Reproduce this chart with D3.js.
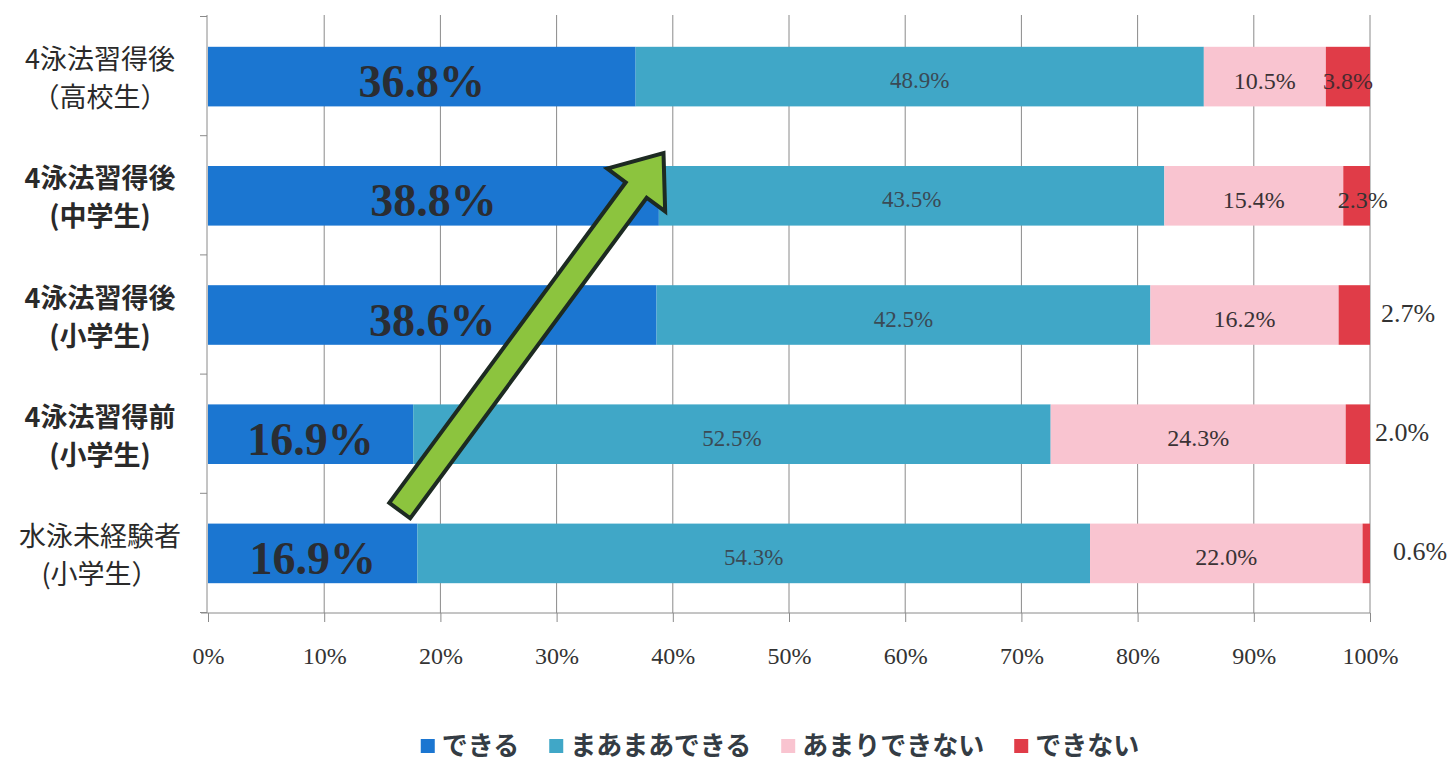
<!DOCTYPE html>
<html>
<head>
<meta charset="utf-8">
<script src="https://cdn.jsdelivr.net/npm/d3@7"></script>
<style>
  body{margin:0;background:#fff;}
  svg{display:block;}
</style>
</head>
<body>
<svg id="chart"></svg>
<script>
// categories (top to bottom)
var catLine1=["4泳法習得後","4泳法習得後","4泳法習得後","4泳法習得前","水泳未経験者"]
var catLine2=["（高校生）","(中学生)","(小学生)","(小学生)","(小学生）"]
var catBold=[false,true,true,true,false]
var seriesNames=["できる","まあまあできる","あまりできない","できない"]
var seriesColors=["#1b76d1","#40a7c7","#f9c4d0","#e03c48"]

var dekiru=[36.8,38.8,38.6,16.9,16.9]
var maamaa=[48.9,43.5,42.5,52.5,54.3]
var amari=[10.5,15.4,16.2,24.3,22.0]
var dekinai=[3.8,2.3,2.7,2.0,0.6]

var xTicks=[0,0.1,0.2,0.3,0.4,0.5,0.6,0.7,0.8,0.9,1]

var screen={width:1454,height:762}

var rows=catLine1.map(function(c,i){
  return {id:i,"できる":dekiru[i],"まあまあできる":maamaa[i],"あまりできない":amari[i],"できない":dekinai[i]}
})

var stack=d3.stack().keys(seriesNames).offset(d3.stackOffsetExpand)
var layers=stack(rows)

var x=d3.scaleLinear().domain([0,1]).range([208,1370])
var y=d3.scaleBand().domain(d3.range(rows.length)).range([17,613]).paddingInner(0.5).paddingOuter(0.25)

var svg=d3.select("#chart").attr("width",screen.width).attr("height",screen.height)

// grid
svg.append("g").selectAll("line")
   .data(xTicks.slice(1))
   .enter().append("line")
   .attr("x1",function(d){return x(d)}).attr("x2",function(d){return x(d)})
   .attr("y1",15).attr("y2",613)
   .attr("stroke","#8a8a8a").attr("stroke-width",1)

// x axis
var xAxis=d3.axisBottom(x).tickValues(xTicks).tickSize(9).tickFormat(d3.format(".0%"))
var gx=svg.append("g").attr("transform","translate(0,613)").call(xAxis)
gx.select(".domain").attr("stroke","#8a8a8a").attr("d","M"+(x(0)-7)+",0H"+x(1))
gx.selectAll(".tick line").attr("stroke","#8a8a8a")
gx.selectAll(".tick text")
  .attr("y",34)
  .attr("font-family","'Liberation Serif',serif")
  .attr("font-size",24)
  .attr("fill","#333")

// y axis line + ticks between categories
svg.append("line").attr("x1",x(0)-1).attr("x2",x(0)-1).attr("y1",15).attr("y2",613)
   .attr("stroke","#8a8a8a")
var step=y.step()
svg.append("g").selectAll("line")
   .data(d3.range(rows.length+1))
   .enter().append("line")
   .attr("x1",x(0)-8).attr("x2",x(0)-1)
   .attr("y1",function(d){return 17+d*step-0.5})
   .attr("y2",function(d){return 17+d*step-0.5})
   .attr("stroke","#8a8a8a")

// bars
var layer=svg.append("g").selectAll("g")
   .data(layers).enter().append("g")
   .attr("fill",function(d,i){return seriesColors[i]})
layer.selectAll("rect")
   .data(function(d){return d})
   .enter().append("rect")
   .attr("x",function(d){return x(d[0])})
   .attr("width",function(d){return x(d[1])-x(d[0])})
   .attr("y",function(d){return y(d.data.id)})
   .attr("height",y.bandwidth())

// value labels
var labels=svg.append("g").attr("font-family","'Liberation Serif',serif")
layers.forEach(function(L,si){
  L.forEach(function(d,i){
    var v=d.data[seriesNames[si]]
    var cx=(x(d[0])+x(d[1]))/2
    var cy=y(i)+y.bandwidth()/2
    var t=labels.append("text").text(v.toFixed(1)+"%")
      .attr("text-anchor","middle")
      .attr("dominant-baseline","central")
    if(si==0){
      t.attr("x",cx).attr("y",cy+5).attr("font-size",46).attr("font-weight","bold").attr("fill","#2a2d33")
    }else if(si==1){
      t.attr("x",cx).attr("y",cy+4).attr("font-size",23).attr("fill","#3a4a55")
    }else if(si==2){
      t.attr("x",cx).attr("y",cy+4).attr("font-size",24).attr("fill","#3a3235")
    }else{
      if(i==0){
        t.attr("x",cx).attr("y",cy+4).attr("font-size",24).attr("fill","#4a2a30")
      }else if(i==1){
        t.attr("x",cx+6).attr("y",cy+4).attr("font-size",24).attr("fill","#333")
      }else{
        var off=[0,0,38,32,50][i]
        t.attr("x",x(1)+off).attr("y",cy-2).attr("font-size",26).attr("fill","#333")
      }
    }
  })
})

// category labels
var cats=svg.append("g").attr("font-family","'Noto Sans CJK JP',sans-serif").attr("fill","#2a2a2a")
catLine1.forEach(function(c,i){
  var cy=y(i)+y.bandwidth()/2
  var w=catBold[i]?"bold":"normal"
  cats.append("text").text(c).attr("x",100).attr("y",cy-19)
      .attr("text-anchor","middle").attr("dominant-baseline","central")
      .attr("font-size",27).attr("font-weight",w)
  cats.append("text").text(catLine2[i]).attr("x",100).attr("y",cy+19)
      .attr("text-anchor","middle").attr("dominant-baseline","central")
      .attr("font-size",27).attr("font-weight",w)
})

// arrow annotation
var tail=[x(0.165),y(4)-13]
var tip=[x(0.392),y(1)-13]
var dx=tip[0]-tail[0],dy=tip[1]-tail[1]
var len=Math.sqrt(dx*dx+dy*dy)
var ang=Math.atan2(dy,dx)*180/Math.PI
var w=13,h=46,H=36
var pts=[[0,-w],[len-h,-w],[len-h,-H],[len,0],[len-h,H],[len-h,w],[0,w]]
svg.append("path")
   .attr("d",d3.line()(pts)+"Z")
   .attr("transform","translate("+tail[0]+","+tail[1]+") rotate("+ang+")")
   .attr("fill","#8cc43e").attr("stroke","#1d2a22").attr("stroke-width",4)
   .attr("stroke-linejoin","miter")

// legend
var legend=svg.append("g").attr("font-family","'Noto Sans CJK JP',sans-serif")
var lx=0
seriesNames.forEach(function(n,i){
  var g=legend.append("g").attr("transform","translate("+lx+",0)")
  g.append("rect").attr("x",0).attr("y",-7).attr("width",14).attr("height",14).attr("fill",seriesColors[i])
  var t=g.append("text").text(n).attr("x",21).attr("y",9)
     .attr("font-size",26).attr("font-weight","bold").attr("fill","#343c44")
  lx+=21+t.node().getComputedTextLength()+30
})
var lw=lx-30
legend.attr("transform","translate("+(780-lw/2)+",746)")
</script>
</body>
</html>
